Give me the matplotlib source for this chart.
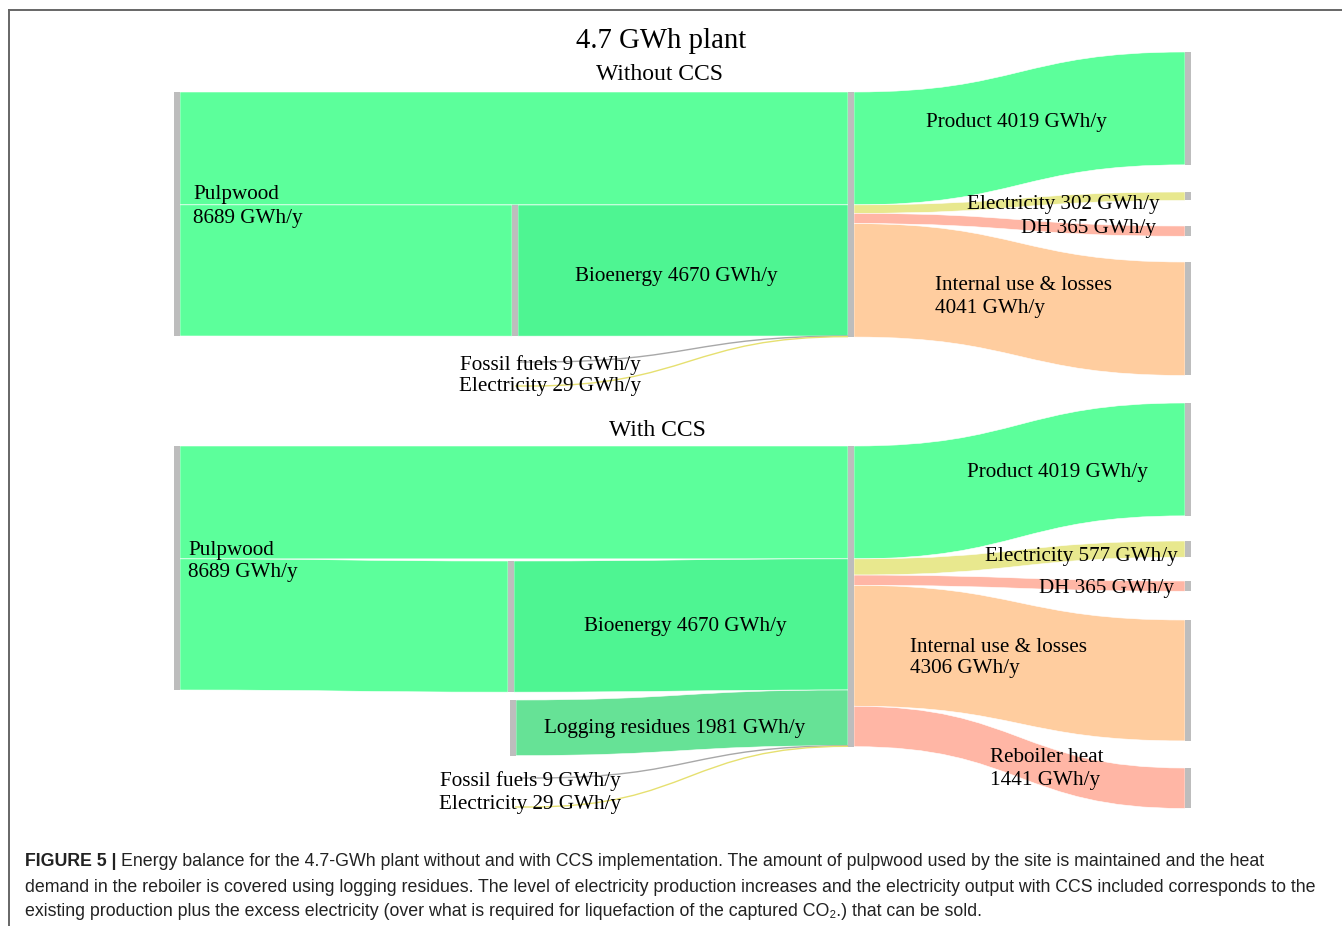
import matplotlib
matplotlib.use("Agg")
import matplotlib.pyplot as plt
from matplotlib.path import Path
from matplotlib.patches import PathPatch, Rectangle

# energy flows in GWh/y
pulpwood = 8689
bioenergy = 4670
pulp_direct = pulpwood - bioenergy
fossil = 9
elec_in = 29
logging = 1981

out_names_no = ["Product", "Electricity", "DH", "Internal use & losses"]
out_values_no = [4019, 302, 365, 4041]
out_names_ccs = ["Product", "Electricity", "DH", "Internal use & losses", "Reboiler heat"]
out_values_ccs = [4019, 577, 365, 4306, 1441]

caption = [
    "Energy balance for the 4.7-GWh plant without and with CCS implementation. The amount of pulpwood used by the site is maintained and the heat",
    "demand in the reboiler is covered using logging residues. The level of electricity production increases and the electricity output with CCS included corresponds to the",
    "existing production plus the excess electricity (over what is required for liquefaction of the captured CO\u2082.) that can be sold.",
]

GREEN = "#5cff9b"
BIO = "#4ef592"
LOG = "#66e296"
YELLOW = "#e8e88e"
SALMON = "#ffb6a5"
PEACH = "#ffcd9f"
GRAY = "#bdbdbd"
out_colors_no = [GREEN, YELLOW, SALMON, PEACH]
out_colors_ccs = [GREEN, YELLOW, SALMON, PEACH, SALMON]

SERIF = "Liberation Serif"
k = 244 / pulpwood  # px per GWh/y
DY = 3  # text sits a little lower than va=center gives

fig = plt.figure(figsize=(13.42, 9.26), dpi=100)
ax = fig.add_axes([0, 0, 1, 1])
ax.set_xlim(0, 1342)
ax.set_ylim(926, 0)
ax.axis("off")


def band(x0, y0, x1, y1, h, color):
    xm = (x0 + x1) / 2
    verts = [(x0, y0), (xm, y0), (xm, y1), (x1, y1), (x1, y1 + h),
             (xm, y1 + h), (xm, y0 + h), (x0, y0 + h), (x0, y0)]
    codes = [Path.MOVETO, Path.CURVE4, Path.CURVE4, Path.CURVE4, Path.LINETO,
             Path.CURVE4, Path.CURVE4, Path.CURVE4, Path.CLOSEPOLY]
    ax.add_patch(PathPatch(Path(verts, codes), fc=color, ec="white", lw=0.4, zorder=1))


def thin(x0, y0, x1, y1, color):
    # flat run under the label, then an s-curve into the process node
    xs = x0 + 15
    xm = (xs + x1) / 2
    p = Path([(x0, y0), (xs, y0), (xm, y0), (xm, y1), (x1, y1)],
             [Path.MOVETO, Path.LINETO, Path.CURVE4, Path.CURVE4, Path.CURVE4])
    ax.add_patch(PathPatch(p, fc="none", ec=color, lw=1.0, zorder=4))


def node(x, y, h):
    ax.add_patch(Rectangle((x, y), 6, h, fc=GRAY, ec="none", zorder=3))


def label(x, y, s, ha="left"):
    ax.text(x, y + DY, s, ha=ha, va="center", fontsize=15.2, family=SERIF, zorder=5)


def draw_plant(top, bio_x, bio_top, outs, out_tops, out_colors, thin_y, log_x=None, log_top=None):
    px = 848
    node(174, top, pulpwood * k)
    band(180, top, px, top, pulp_direct * k, GREEN)
    band(180, top + pulp_direct * k, bio_x, bio_top, bioenergy * k, GREEN)
    node(bio_x, bio_top, bioenergy * k)
    y = top + pulp_direct * k
    band(bio_x + 6, bio_top, px, y, bioenergy * k, BIO)
    y += bioenergy * k
    if log_top is not None:
        node(log_x, log_top, logging * k)
        band(log_x + 6, log_top, px, y, logging * k, LOG)
        y += logging * k
    thin(520, thin_y[0], px, y + fossil * k / 2, "#a8a8a8")
    y += fossil * k
    thin(515, thin_y[1], px, y + elec_in * k / 2, "#e6e070")
    node(px, top, sum(outs) * k)
    y = top
    for v, t, c in zip(outs, out_tops, out_colors):
        band(px + 6, y, 1185, t, v * k, c)
        node(1185, t, v * k)
        y += v * k


# without CCS
draw_plant(92, 512, 205, out_values_no, [52, 192, 226, 262], out_colors_no, [362, 386])
label(193, 192, "Pulpwood")
label(193, 215, f"{pulpwood} GWh/y")
label(676, 274, f"Bioenergy {bioenergy} GWh/y", "center")
label(1016, 119, f"{out_names_no[0]} {out_values_no[0]} GWh/y", "center")
label(1160, 201, f"{out_names_no[1]} {out_values_no[1]} GWh/y", "right")
label(1156, 225, f"{out_names_no[2]} {out_values_no[2]} GWh/y", "right")
label(935, 282, out_names_no[3])
label(935, 305, f"{out_values_no[3]} GWh/y")
label(641, 362, f"Fossil fuels {fossil} GWh/y", "right")
label(641, 384, f"Electricity {elec_in} GWh/y", "right")

# with CCS
draw_plant(446, 508, 561, out_values_ccs, [403, 541, 581, 620, 768], out_colors_ccs,
           [778, 807], log_x=510, log_top=700)
label(188, 548, "Pulpwood")
label(188, 570, f"{pulpwood} GWh/y")
label(685, 624, f"Bioenergy {bioenergy} GWh/y", "center")
label(675, 726, f"Logging residues {logging} GWh/y", "center")
label(1057, 470, f"{out_names_ccs[0]} {out_values_ccs[0]} GWh/y", "center")
label(1178, 553, f"{out_names_ccs[1]} {out_values_ccs[1]} GWh/y", "right")
label(1174, 586, f"{out_names_ccs[2]} {out_values_ccs[2]} GWh/y", "right")
label(910, 644, out_names_ccs[3])
label(910, 666, f"{out_values_ccs[3]} GWh/y")
label(990, 755, out_names_ccs[4])
label(990, 778, f"{out_values_ccs[4]} GWh/y")
label(621, 778, f"Fossil fuels {fossil} GWh/y", "right")
label(621, 802, f"Electricity {elec_in} GWh/y", "right")

ax.text(661, 38 + DY, "4.7 GWh plant", ha="center", va="center", fontsize=20.7, family=SERIF)
ax.text(659, 72 + DY, "Without CCS", ha="center", va="center", fontsize=17, family=SERIF)
ax.text(657, 428 + DY, "With CCS", ha="center", va="center", fontsize=17, family=SERIF)

# frame lines
ax.plot([9, 1342], [10, 10], color="#666666", lw=1.4)
ax.plot([9, 9], [10, 926], color="#666666", lw=1.4)

# caption, sized so the second line spans the width
cap_font = ["Liberation Sans", "DejaVu Sans"]
r = fig.canvas.get_renderer()
probe = ax.text(25, 885, caption[1], fontsize=12, family=cap_font, va="center")
w = probe.get_window_extent(r).width
probe.remove()
fs = 12 * (1323 - 25) / w

head = ax.text(25, 860 + 2, "FIGURE 5 | ", fontsize=fs, family=cap_font, weight="bold",
               va="center", color="#222222")
hx = head.get_window_extent(r).x1
ax.text(hx, 860 + 2, caption[0], fontsize=fs, family=cap_font, va="center", color="#222222")
ax.text(25, 885 + 2, caption[1], fontsize=fs, family=cap_font, va="center", color="#222222")
ax.text(25, 910 + 2, caption[2], fontsize=fs, family=cap_font, va="center", color="#222222")

fig.savefig("out.png", dpi=100)
